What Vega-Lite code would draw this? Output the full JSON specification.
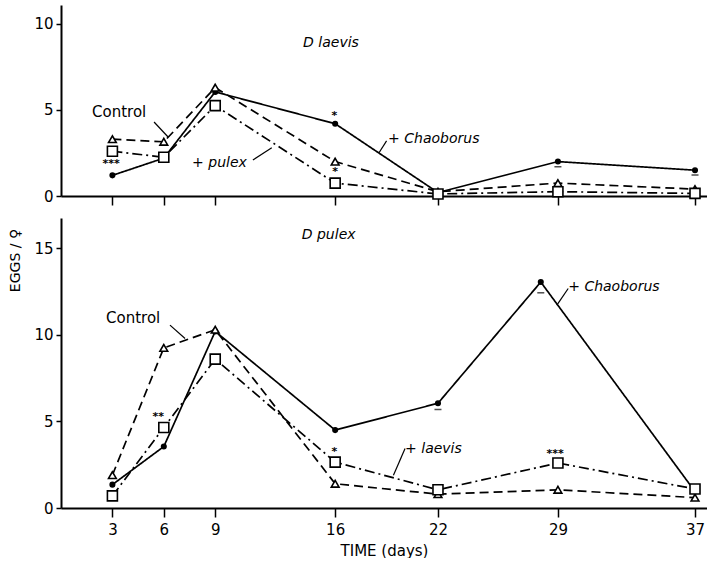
{
  "$schema": "https://vega.github.io/schema/vega-lite/v6.json",
  "background": "white",
  "padding": {"left": 8, "top": 5, "right": 0, "bottom": 0},
  "spacing": 12,
  "config": {
    "view": {"stroke": null},
    "font": "DejaVu Sans",
    "axis": {
      "grid": false,
      "domainColor": "black",
      "domainWidth": 2,
      "tickColor": "black",
      "tickWidth": 1.5,
      "labelColor": "black",
      "labelFont": "DejaVu Sans",
      "labelFontSize": 15,
      "titleColor": "black",
      "titleFont": "DejaVu Sans",
      "titleFontWeight": "normal"
    }
  },
  "resolve": {"scale": {"y": "independent"}},
  "datasets": {
    "laevis": [
      {"day": 3, "eggs": 1.2, "treatment": "Chaoborus"},
      {"day": 6, "eggs": 2.2, "treatment": "Chaoborus"},
      {"day": 9, "eggs": 6.05, "treatment": "Chaoborus"},
      {"day": 16, "eggs": 4.2, "treatment": "Chaoborus"},
      {"day": 22, "eggs": 0.2, "treatment": "Chaoborus"},
      {"day": 29, "eggs": 2.0, "treatment": "Chaoborus"},
      {"day": 37, "eggs": 1.5, "treatment": "Chaoborus"},
      {"day": 3, "eggs": 3.3, "treatment": "Control"},
      {"day": 6, "eggs": 3.15, "treatment": "Control"},
      {"day": 9, "eggs": 6.3, "treatment": "Control"},
      {"day": 16, "eggs": 2.0, "treatment": "Control"},
      {"day": 22, "eggs": 0.25, "treatment": "Control"},
      {"day": 29, "eggs": 0.75, "treatment": "Control"},
      {"day": 37, "eggs": 0.4, "treatment": "Control"},
      {"day": 3, "eggs": 2.6, "treatment": "Competitor"},
      {"day": 6, "eggs": 2.25, "treatment": "Competitor"},
      {"day": 9, "eggs": 5.25, "treatment": "Competitor"},
      {"day": 16, "eggs": 0.75, "treatment": "Competitor"},
      {"day": 22, "eggs": 0.12, "treatment": "Competitor"},
      {"day": 29, "eggs": 0.25, "treatment": "Competitor"},
      {"day": 37, "eggs": 0.15, "treatment": "Competitor"}
    ],
    "pulex": [
      {"day": 3, "eggs": 1.35, "treatment": "Chaoborus"},
      {"day": 6, "eggs": 3.55, "treatment": "Chaoborus"},
      {"day": 9, "eggs": 10.2, "treatment": "Chaoborus"},
      {"day": 16, "eggs": 4.5, "treatment": "Chaoborus"},
      {"day": 22, "eggs": 6.05, "treatment": "Chaoborus"},
      {"day": 28, "eggs": 13.05, "treatment": "Chaoborus"},
      {"day": 37, "eggs": 0.95, "treatment": "Chaoborus"},
      {"day": 3, "eggs": 1.9, "treatment": "Control"},
      {"day": 6, "eggs": 9.25, "treatment": "Control"},
      {"day": 9, "eggs": 10.3, "treatment": "Control"},
      {"day": 16, "eggs": 1.4, "treatment": "Control"},
      {"day": 22, "eggs": 0.8, "treatment": "Control"},
      {"day": 29, "eggs": 1.05, "treatment": "Control"},
      {"day": 37, "eggs": 0.6, "treatment": "Control"},
      {"day": 3, "eggs": 0.7, "treatment": "Competitor"},
      {"day": 6, "eggs": 4.65, "treatment": "Competitor"},
      {"day": 9, "eggs": 8.6, "treatment": "Competitor"},
      {"day": 16, "eggs": 2.65, "treatment": "Competitor"},
      {"day": 22, "eggs": 1.05, "treatment": "Competitor"},
      {"day": 29, "eggs": 2.6, "treatment": "Competitor"},
      {"day": 37, "eggs": 1.1, "treatment": "Competitor"}
    ],
    "laevisSE": [
      {"day": 29, "eggs": 1.7},
      {"day": 37, "eggs": 1.22}
    ],
    "pulexSE": [
      {"day": 22, "eggs": 5.69},
      {"day": 28, "eggs": 12.43}
    ],
    "laevisLeaders": [
      {"x": 5.43, "y": 4.3, "x2": 6.25, "y2": 3.43},
      {"x": 11.2, "y": 2.09, "x2": 12.3, "y2": 2.8},
      {"x": 18.55, "y": 2.5, "x2": 19.0, "y2": 3.2}
    ],
    "pulexLeaders": [
      {"x": 6.36, "y": 10.56, "x2": 7.24, "y2": 9.79},
      {"x": 28.94, "y": 11.72, "x2": 29.6, "y2": 12.68},
      {"x": 19.4, "y": 1.89, "x2": 20.08, "y2": 3.43}
    ],
    "laevisLabels": [
      {"x": 1.81, "y": 4.88, "label": "Control"}
    ],
    "laevisItalic": [
      {"x": 7.65, "y": 1.92, "label": "+ pulex"},
      {"x": 19.09, "y": 3.3, "label": "+ Chaoborus"},
      {"x": 14.13, "y": 8.88, "label": "D  laevis"}
    ],
    "laevisStars": [
      {"x": 2.93, "y": 1.86, "label": "***"},
      {"x": 15.96, "y": 4.67, "label": "*"},
      {"x": 16.0, "y": 1.38, "label": "*"}
    ],
    "pulexLabels": [
      {"x": 2.63, "y": 11.0, "label": "Control"}
    ],
    "pulexItalic": [
      {"x": 29.6, "y": 12.77, "label": "+ Chaoborus"},
      {"x": 20.08, "y": 3.38, "label": "+ laevis"},
      {"x": 14.05, "y": 15.76, "label": "D  pulex"}
    ],
    "pulexStars": [
      {"x": 5.68, "y": 5.26, "label": "**"},
      {"x": 15.96, "y": 3.24, "label": "*"},
      {"x": 28.84, "y": 3.14, "label": "***"}
    ]
  },
  "vconcat": [
    {
      "width": 646,
      "height": 191,
      "layer": [
        {
          "data": {"name": "laevis"},
          "mark": {"type": "line", "color": "black", "strokeWidth": 1.7},
          "encoding": {
            "x": {"field": "day", "type": "quantitative",
                  "scale": {"domain": [0, 37.7], "nice": false, "zero": false},
                  "axis": {"values": [3, 6, 9, 16, 22, 29, 37], "labels": false, "title": null, "tickSize": 9}},
            "y": {"field": "eggs", "type": "quantitative",
                  "scale": {"domain": [0, 11.1], "nice": false},
                  "axis": {"values": [0, 5, 10], "tickSize": 5, "labelPadding": 3, "title": null}},
            "strokeDash": {"field": "treatment", "type": "nominal",
                           "scale": {"domain": ["Chaoborus", "Control", "Competitor"], "range": [[1, 0], [9, 5], [10, 4, 2, 4]]},
                           "legend": null}
          }
        },
        {
          "data": {"name": "laevis"},
          "mark": {"type": "point", "filled": true, "stroke": "black", "strokeWidth": 1.6, "opacity": 1},
          "encoding": {
            "x": {"field": "day", "type": "quantitative"},
            "y": {"field": "eggs", "type": "quantitative"},
            "shape": {"field": "treatment", "type": "nominal",
                      "scale": {"domain": ["Chaoborus", "Control", "Competitor"], "range": ["circle", "triangle-up", "square"]},
                      "legend": null},
            "fill": {"field": "treatment", "type": "nominal",
                     "scale": {"domain": ["Chaoborus", "Control", "Competitor"], "range": ["black", "white", "white"]},
                     "legend": null},
            "size": {"field": "treatment", "type": "nominal",
                     "scale": {"domain": ["Chaoborus", "Control", "Competitor"], "range": [20, 100, 52]},
                     "legend": null}
          }
        },
        {
          "data": {"name": "laevisSE"},
          "mark": {"type": "tick", "orient": "horizontal", "color": "black", "size": 7, "thickness": 1.5},
          "encoding": {
            "x": {"field": "day", "type": "quantitative"},
            "y": {"field": "eggs", "type": "quantitative"}
          }
        },
        {
          "data": {"name": "laevisLeaders"},
          "mark": {"type": "rule", "color": "black", "strokeWidth": 1.2},
          "encoding": {
            "x": {"field": "x", "type": "quantitative"},
            "y": {"field": "y", "type": "quantitative"},
            "x2": {"field": "x2"},
            "y2": {"field": "y2"}
          }
        },
        {
          "data": {"name": "laevisLabels"},
          "mark": {"type": "text", "align": "left", "baseline": "middle", "fontSize": 15, "fill": "black"},
          "encoding": {
            "x": {"field": "x", "type": "quantitative"},
            "y": {"field": "y", "type": "quantitative"},
            "text": {"field": "label"}
          }
        },
        {
          "data": {"name": "laevisItalic"},
          "mark": {"type": "text", "align": "left", "baseline": "middle", "fontSize": 14, "fontStyle": "italic", "fill": "black"},
          "encoding": {
            "x": {"field": "x", "type": "quantitative"},
            "y": {"field": "y", "type": "quantitative"},
            "text": {"field": "label"}
          }
        },
        {
          "data": {"name": "laevisStars"},
          "mark": {"type": "text", "align": "center", "baseline": "middle", "fontSize": 11, "fontWeight": "bold", "fill": "black"},
          "encoding": {
            "x": {"field": "x", "type": "quantitative"},
            "y": {"field": "y", "type": "quantitative"},
            "text": {"field": "label"}
          }
        }
      ]
    },
    {
      "width": 646,
      "height": 290,
      "layer": [
        {
          "data": {"name": "pulex"},
          "mark": {"type": "line", "color": "black", "strokeWidth": 1.7},
          "encoding": {
            "x": {"field": "day", "type": "quantitative",
                  "scale": {"domain": [0, 37.7], "nice": false, "zero": false},
                  "axis": {"values": [3, 6, 9, 16, 22, 29, 37], "tickSize": 9, "labelPadding": 5,
                           "title": "TIME  (days)", "titleFontSize": 15, "titlePadding": 6}},
            "y": {"field": "eggs", "type": "quantitative",
                  "scale": {"domain": [0, 16.75], "nice": false},
                  "axis": {"values": [0, 5, 10, 15], "tickSize": 5, "labelPadding": 3,
                           "title": "EGGS / ♀", "titleFontSize": 14, "titleAngle": 270,
                           "titleX": -46, "titleY": 42, "titleAlign": "center", "titleBaseline": "middle"}},
            "strokeDash": {"field": "treatment", "type": "nominal",
                           "scale": {"domain": ["Chaoborus", "Control", "Competitor"], "range": [[1, 0], [9, 5], [10, 4, 2, 4]]},
                           "legend": null}
          }
        },
        {
          "data": {"name": "pulex"},
          "mark": {"type": "point", "filled": true, "stroke": "black", "strokeWidth": 1.6, "opacity": 1},
          "encoding": {
            "x": {"field": "day", "type": "quantitative"},
            "y": {"field": "eggs", "type": "quantitative"},
            "shape": {"field": "treatment", "type": "nominal",
                      "scale": {"domain": ["Chaoborus", "Control", "Competitor"], "range": ["circle", "triangle-up", "square"]},
                      "legend": null},
            "fill": {"field": "treatment", "type": "nominal",
                     "scale": {"domain": ["Chaoborus", "Control", "Competitor"], "range": ["black", "white", "white"]},
                     "legend": null},
            "size": {"field": "treatment", "type": "nominal",
                     "scale": {"domain": ["Chaoborus", "Control", "Competitor"], "range": [20, 100, 52]},
                     "legend": null}
          }
        },
        {
          "data": {"name": "pulexSE"},
          "mark": {"type": "tick", "orient": "horizontal", "color": "black", "size": 7, "thickness": 1.5},
          "encoding": {
            "x": {"field": "day", "type": "quantitative"},
            "y": {"field": "eggs", "type": "quantitative"}
          }
        },
        {
          "data": {"name": "pulexLeaders"},
          "mark": {"type": "rule", "color": "black", "strokeWidth": 1.2},
          "encoding": {
            "x": {"field": "x", "type": "quantitative"},
            "y": {"field": "y", "type": "quantitative"},
            "x2": {"field": "x2"},
            "y2": {"field": "y2"}
          }
        },
        {
          "data": {"name": "pulexLabels"},
          "mark": {"type": "text", "align": "left", "baseline": "middle", "fontSize": 15, "fill": "black"},
          "encoding": {
            "x": {"field": "x", "type": "quantitative"},
            "y": {"field": "y", "type": "quantitative"},
            "text": {"field": "label"}
          }
        },
        {
          "data": {"name": "pulexItalic"},
          "mark": {"type": "text", "align": "left", "baseline": "middle", "fontSize": 14, "fontStyle": "italic", "fill": "black"},
          "encoding": {
            "x": {"field": "x", "type": "quantitative"},
            "y": {"field": "y", "type": "quantitative"},
            "text": {"field": "label"}
          }
        },
        {
          "data": {"name": "pulexStars"},
          "mark": {"type": "text", "align": "center", "baseline": "middle", "fontSize": 11, "fontWeight": "bold", "fill": "black"},
          "encoding": {
            "x": {"field": "x", "type": "quantitative"},
            "y": {"field": "y", "type": "quantitative"},
            "text": {"field": "label"}
          }
        }
      ]
    }
  ]
}
